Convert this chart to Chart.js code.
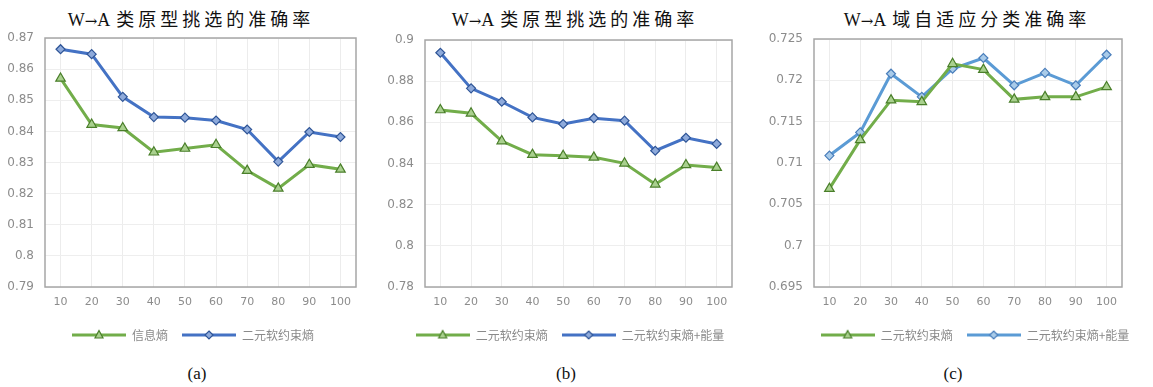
<!DOCTYPE html>
<html>
<head>
<meta charset="utf-8">
<script src="https://cdn.jsdelivr.net/npm/chart.js@4.4.1/dist/chart.umd.min.js"></script>
<style>
  html, body { margin: 0; padding: 0; background: #fff; }
  body { width: 1153px; height: 387px; position: relative; overflow: hidden; }
  canvas { position: absolute; top: 0; }
  .title {
    position: absolute; top: 7px; transform: translateX(-50%); white-space: nowrap;
    font-family: "Liberation Serif", "Noto Sans CJK SC", serif; font-size: 18px; line-height: 22px; color: #111;
  }
  .title .arrow { font-family: "DejaVu Serif", serif; font-size: 15px; }
  .title .cjk { font-family: "Noto Sans CJK SC", sans-serif; letter-spacing: 4px; margin-left: 6px; }
  .cap {
    position: absolute; top: 364px; transform: translateX(-50%);
    font-family: "Liberation Serif", serif; font-size: 17px; line-height: 20px; color: #111;
  }
</style>
</head>
<body>
<div class="title" style="left:191px">W<span class="arrow">→</span>A<span class="cjk">类原型挑选的准确率</span></div>
<div class="title" style="left:575px">W<span class="arrow">→</span>A<span class="cjk">类原型挑选的准确率</span></div>
<div class="title" style="left:967px">W<span class="arrow">→</span>A<span class="cjk">域自适应分类准确率</span></div>
<canvas id="chartA" width="386" height="352" style="left:0px"></canvas>
<canvas id="chartB" width="380" height="352" style="left:380px"></canvas>
<canvas id="chartC" width="414" height="352" style="left:768px"></canvas>
<div class="cap" style="left:197px">(a)</div>
<div class="cap" style="left:566px">(b)</div>
<div class="cap" style="left:953px">(c)</div>

<script>
// Number of selected prototypes per class
const categories = ['10', '20', '30', '40', '50', '60', '70', '80', '90', '100'];

// (a) prototype selection accuracy
const seriesNamesA = ['信息熵', '二元软约束熵'];
const entropyA     = [0.857, 0.8422, 0.8411, 0.8333, 0.8345, 0.8357, 0.8274, 0.8217, 0.8293, 0.8278];
const softEntropyA = [0.8664, 0.8648, 0.8511, 0.8446, 0.8444, 0.8435, 0.8406, 0.8303, 0.8398, 0.8382];
const yTicksA      = [0.79, 0.8, 0.81, 0.82, 0.83, 0.84, 0.85, 0.86, 0.87];

// (b) prototype selection accuracy
const seriesNamesB = ['二元软约束熵', '二元软约束熵+能量'];
const softEntropyB = [0.866, 0.8644, 0.8509, 0.8443, 0.8438, 0.843, 0.8401, 0.8299, 0.8393, 0.838];
const softEnergyB  = [0.8938, 0.8765, 0.870, 0.8624, 0.8592, 0.862, 0.8608, 0.8462, 0.8525, 0.8495];
const yTicksB      = [0.78, 0.8, 0.82, 0.84, 0.86, 0.88, 0.9];

// (c) domain adaptation classification accuracy
const seriesNamesC = ['二元软约束熵', '二元软约束熵+能量'];
const softEntropyC = [0.7069, 0.7128, 0.7176, 0.7174, 0.722, 0.7213, 0.7177, 0.718, 0.718, 0.7192];
const softEnergyC  = [0.7109, 0.7137, 0.7208, 0.718, 0.7214, 0.7227, 0.7194, 0.7209, 0.7194, 0.7231];
const yTicksC      = [0.695, 0.7, 0.705, 0.71, 0.715, 0.72, 0.725];

const GREEN = { line: '#72ad4a', fill: '#a9d08e', edge: '#4a7f2a', style: 'triangle', r: 5.5 };
const BLUE  = { line: '#4472c4', fill: '#8eaadb', edge: '#2f5597', style: 'rectRot', r: 4.5 };
const LIGHT = { line: '#5b9bd5', fill: '#a9cbe9', edge: '#4a7ebb', style: 'rectRot', r: 4.5 };

// Legend swatch: a short line with the series marker in the middle
function swatch(c) {
  const cv = document.createElement('canvas');
  cv.width = 54; cv.height = 14;
  const g = cv.getContext('2d');
  g.strokeStyle = c.line; g.lineWidth = 3;
  g.beginPath(); g.moveTo(0, 7); g.lineTo(54, 7); g.stroke();
  g.fillStyle = c.fill; g.strokeStyle = c.edge; g.lineWidth = 1.2;
  g.beginPath();
  if (c.style === 'triangle') {
    g.moveTo(27, 2.5); g.lineTo(31, 10); g.lineTo(23, 10); g.closePath();
  } else {
    g.moveTo(27, 3); g.lineTo(31, 7); g.lineTo(27, 11); g.lineTo(23, 7); g.closePath();
  }
  g.fill(); g.stroke();
  return cv;
}

// Grey frame around the plot area
const frame = {
  id: 'frame',
  beforeDatasetsDraw(chart) {
    const { ctx, chartArea: a } = chart;
    ctx.save();
    ctx.strokeStyle = '#a6a6a6';
    ctx.lineWidth = 1.5;
    ctx.strokeRect(a.left, a.top, a.right - a.left, a.bottom - a.top);
    ctx.restore();
  }
};

const fmt = v => String(+Number(v).toFixed(3));

function panel(id, names, values, colors, yTicks, leftW, rightW, top) {
  const datasets = values.map((vals, i) => ({
    label: names[i],
    data: vals,
    borderColor: colors[i].line,
    borderWidth: 3,
    tension: 0,
    pointStyle: colors[i].style,
    pointRadius: colors[i].r,
    pointBackgroundColor: colors[i].fill,
    pointBorderColor: colors[i].edge,
    pointBorderWidth: 1.2,
    yAxisID: 'y'
  }));
  return new Chart(document.getElementById(id), {
    type: 'line',
    data: { labels: categories, datasets },
    plugins: [frame],
    options: {
      responsive: false,
      animation: false,
      layout: { padding: { top: top, bottom: 1, left: 0, right: 0 } },
      plugins: {
        tooltip: { enabled: false },
        legend: {
          position: 'bottom',
          labels: {
            usePointStyle: true,
            pointStyleWidth: 54,
            boxHeight: 12,
            padding: 14,
            color: '#8a8a8a',
            font: { family: '"Noto Sans CJK SC", sans-serif', size: 12 },
            generateLabels: () => names.map((n, i) => ({
              text: n,
              pointStyle: swatch(colors[i]),
              fillStyle: 'transparent',
              strokeStyle: 'transparent',
              lineWidth: 0,
              fontColor: '#8a8a8a',
              hidden: false,
              datasetIndex: i
            }))
          }
        }
      },
      scales: {
        x: {
          type: 'category',
          offset: true,
          grid: { color: '#ececec', lineWidth: 1, drawTicks: false },
          border: { display: false },
          ticks: { color: '#8c8c8c', padding: 9, font: { family: '"DejaVu Sans", sans-serif', size: 11 } },
          afterFit(s) { s.height = 28; }
        },
        y: {
          position: 'left',
          min: yTicks[0],
          max: yTicks[yTicks.length - 1],
          grid: { color: '#eeeeee', lineWidth: 1, drawTicks: false },
          border: { display: false },
          afterBuildTicks(s) { s.ticks = yTicks.map(v => ({ value: v })); },
          ticks: {
            color: '#8c8c8c', padding: 11,
            font: { family: '"DejaVu Sans", sans-serif', size: 12 },
            callback: v => fmt(v)
          },
          afterFit(s) { s.width = leftW; }
        },
        yRight: {
          position: 'right',
          display: true,
          grid: { display: false, drawTicks: false },
          border: { display: false },
          ticks: { display: false },
          afterFit(s) { s.width = rightW; }
        }
      }
    }
  });
}

panel('chartA', seriesNamesA, [entropyA, softEntropyA], [GREEN, BLUE], yTicksA, 45, 30, 38);
panel('chartB', seriesNamesB, [softEntropyB, softEnergyB], [GREEN, BLUE], yTicksB, 45, 28, 40);
panel('chartC', seriesNamesC, [softEntropyC, softEnergyC], [GREEN, LIGHT], yTicksC, 46, 60, 39);
</script>
</body>
</html>
